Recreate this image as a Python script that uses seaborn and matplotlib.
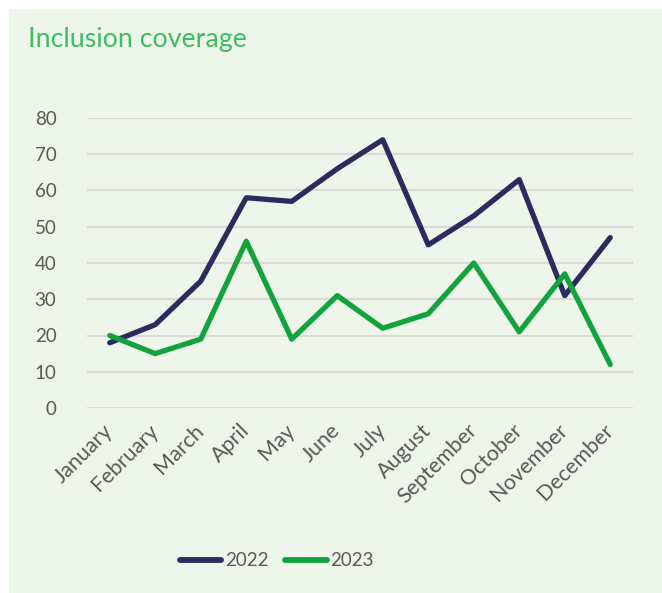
import matplotlib
matplotlib.use("Agg")
import matplotlib.pyplot as plt
import seaborn as sns
import pandas as pd

months = ["January", "February", "March", "April", "May", "June", "July",
          "August", "September", "October", "November", "December"]
values_2022 = [18, 23, 35, 58, 57, 66, 74, 45, 53, 63, 31, 47]
values_2023 = [20, 15, 19, 46, 19, 31, 22, 26, 40, 21, 37, 12]
series_names = ["2022", "2023"]
y_ticks = [0, 10, 20, 30, 40, 50, 60, 70, 80]
title = "Inclusion coverage"

df = pd.DataFrame({
    "month": months * 2,
    "value": values_2022 + values_2023,
    "year": [series_names[0]] * len(months) + [series_names[1]] * len(months),
})

sns.set_theme(style="white")
plt.rcParams["font.family"] = ["Lato", "DejaVu Sans"]

BG = "#EEF5EA"
TEXT = "#595959"
palette = {"2022": "#2C2A5E", "2023": "#12A33C"}

fig = plt.figure(figsize=(6.62, 5.93), dpi=100)
fig.patch.set_facecolor("white")

# light green card behind everything
bg_ax = fig.add_axes([9 / 662, 0, 1 - 9 / 662, 1 - 9 / 593], zorder=-1)
bg_ax.set_facecolor(BG)
bg_ax.set_xticks([])
bg_ax.set_yticks([])
for s in bg_ax.spines.values():
    s.set_visible(False)

ax = fig.add_axes([87 / 662, (593 - 408) / 593, 546 / 662, 290 / 593], zorder=1)
ax.patch.set_alpha(0)

sns.lineplot(data=df, x="month", y="value", hue="year", palette=palette,
             linewidth=3.8, ax=ax, legend=False, sort=False)
for line in ax.lines:
    line.set_solid_capstyle("round")
    line.set_solid_joinstyle("round")

ax.set_xlim(-0.5, len(months) - 0.5)
ax.set_ylim(0, 80)
ax.set_yticks(y_ticks)
ax.yaxis.grid(True, color="#D9D9D9", linewidth=1.5)
ax.set_axisbelow(True)
for s in ax.spines.values():
    s.set_visible(False)
ax.set_xlabel("")
ax.set_ylabel("")
ax.tick_params(axis="both", length=0, colors=TEXT, labelsize=13.5)
ax.tick_params(axis="y", pad=22)
ax.tick_params(axis="x", pad=14, labelsize=15.5)
ax.set_xticks(range(len(months)))
ax.set_xticklabels(months, rotation=45, ha="right", va="center",
                   rotation_mode="anchor")

fig.text(28 / 662, 1 - 40 / 593, title, color="#3DBE60", fontsize=19.3,
         va="center", ha="left")

handles = [plt.Line2D([], [], color=palette[n], linewidth=4.2,
                      solid_capstyle="round") for n in series_names]
fig.legend(handles, series_names, loc="center", frameon=False,
           bbox_to_anchor=(277 / 662, 1 - 561 / 593), ncol=2,
           fontsize=13.5, labelcolor=TEXT, handlelength=2.2,
           handletextpad=0.2, columnspacing=0.9)

fig.savefig("out.png", dpi=100, facecolor="white")
